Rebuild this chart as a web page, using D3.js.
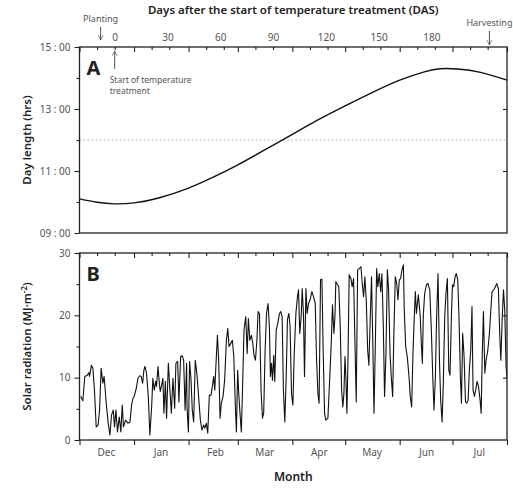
<!DOCTYPE html>
<html>
<head>
<meta charset="utf-8">
<script src="https://cdn.jsdelivr.net/npm/d3@7"></script>
<style>
  body { margin: 0; background: #fff; }
  text { font-family: "Noto Sans", "Open Sans", sans-serif; }
</style>
</head>
<body>
<script>
// months on the bottom axis
const months = ["Dec", "Jan", "Feb", "Mar", "Apr", "May", "Jun", "Jul"];

// days after the start of temperature treatment, top axis labels
const dasTicks = [0, 30, 60, 90, 120, 150, 180];

// y ticks
const dayLenTicks = [9, 11, 13, 15];
const dayLenMinor = [10, 12, 14];
const radTicks = [0, 10, 20, 30];
const radMinor = [5, 15, 25];

// day length (hrs); days counted from 1 Dec
const dayLenDay = [0, 10, 20, 31, 45, 62, 76, 90, 105, 121, 135, 151, 166, 182, 196, 205, 215, 228, 243];
const dayLenHrs = [10.10, 9.99, 9.94, 9.97, 10.13, 10.45, 10.80, 11.20, 11.67, 12.18, 12.63, 13.10, 13.52, 13.93, 14.20, 14.30, 14.29, 14.18, 13.93];

// solar radiation (MJ m-2); days counted from 1 Dec
const radDay = [
  0.6, 1.9, 3.0, 4.4, 5.3, 5.7, 6.8, 7.6, 8.5, 9.5, 10.6, 11.4, 12.3, 13.3, 14.0, 15.2, 16.3, 17.3, 18.2, 19.2,
  19.9, 20.7, 21.6, 22.6, 23.5, 24.3, 25.0, 26.2, 27.5, 28.7, 29.6, 30.4, 31.1, 32.3, 33.2, 34.2, 35.1, 35.9, 36.6, 37.2,
  38.1, 39.1, 40.0, 41.0, 41.7, 42.5, 43.3, 43.8, 44.6, 45.4, 45.9, 46.7, 47.4, 48.0, 48.8, 49.5, 50.5, 51.4, 52.2, 53.1,
  54.1, 54.8, 55.8, 56.5, 57.5, 58.4, 59.2, 60.0, 60.9,
  61.1, 61.9, 62.6, 63.4, 64.1, 64.9, 65.8, 66.8, 67.7, 68.7, 69.6, 70.6, 71.3, 72.1, 72.9, 73.8, 74.8, 75.5, 76.3, 76.9,
  77.6, 78.4, 79.1, 79.9, 80.6, 81.6, 82.5, 83.5, 84.3, 85.0, 86.0, 86.9, 87.7, 88.6, 89.2, 89.9, 90.5, 91.3, 92.0, 92.8,
  93.5, 94.5, 95.3, 96.0, 96.8, 97.7, 98.5, 99.2, 100.0, 100.8, 101.5, 102.3, 103.2, 104.0, 104.7, 105.5, 106.3, 107.2,
  108.0, 108.5, 109.1, 109.7, 110.4, 111.0, 111.8, 112.7, 113.7, 114.4, 115.2, 115.9, 116.7, 117.5, 118.2, 119.0, 119.7,
  120.5, 121.3, 122.0,
  123.0, 123.9, 124.5, 125.2, 126.0, 126.6, 127.3, 127.9, 128.7, 129.4, 130.2, 131.1, 132.1, 133.0, 134.0, 134.7, 135.5,
  136.2, 137.0, 137.8, 138.5, 139.3, 140.0, 141.2, 142.1, 143.1, 143.8, 144.6, 145.2, 145.7, 146.7, 147.4, 148.2, 149.0,
  149.7, 150.3, 150.9, 151.4, 152.0, 152.6, 153.3, 154.3, 155.0, 155.8, 156.5, 157.3, 158.1, 159.0, 160.0, 160.7, 161.5,
  162.2, 163.0, 163.8, 164.5, 165.3, 166.0, 166.8, 167.4, 168.1, 168.9, 169.6, 170.4, 171.2, 171.9, 172.7, 173.4, 174.2,
  175.0, 175.7, 176.5, 177.2, 178.0, 178.7, 179.5, 180.3, 181.0, 181.8, 182.5, 183.3, 184.1,
  184.6, 185.4, 186.3, 187.3, 188.0, 188.8, 189.6, 190.3, 190.9, 191.5, 192.0, 192.6, 193.2, 193.7, 194.3, 194.9, 195.4,
  196.2, 197.2, 198.1, 199.1, 200.0, 200.8, 201.5, 202.3, 203.0, 203.8, 204.6, 205.3, 206.1, 206.8, 207.6, 208.3, 209.1,
  209.9, 210.6, 211.4, 212.0, 212.7, 213.5, 214.2, 215.0, 215.7, 216.5, 217.1, 217.8, 218.6, 219.4, 220.1, 220.9, 221.6,
  222.4, 223.1, 223.7, 224.5, 225.2, 226.0, 226.8, 227.7, 228.3, 229.0, 229.6, 230.4, 231.1, 232.1, 233.0, 233.8, 234.5,
  235.5, 236.4, 237.2, 238.1, 238.9, 239.5, 240.2, 241.0, 241.7, 242.5, 243.0
];
const radVal = [
  7.0, 6.3, 10.2, 10.4, 10.8, 10.2, 12.0, 11.5, 8.0, 2.1, 2.4, 4.8, 11.5, 9.1, 10.2, 5.9, 2.7, 0.8, 4.0, 4.8,
  2.1, 4.8, 1.3, 3.7, 1.3, 5.6, 2.1, 3.2, 2.7, 2.9, 5.6, 6.7, 7.0, 8.3, 9.9, 10.3, 10.2, 9.1, 11.2, 11.8,
  10.7, 7.0, 0.8, 5.3, 9.9, 8.0, 9.4, 8.6, 11.8, 9.1, 7.8, 8.8, 9.9, 4.3, 9.4, 3.5, 12.3, 8.0, 4.3, 9.9,
  5.1, 12.3, 12.6, 6.1, 13.4, 13.5, 12.8, 4.8, 12.3,
  5.3, 1.3, 12.6, 9.6, 4.8, 2.9, 12.8, 10.4, 7.0, 3.2, 1.6, 2.4, 1.9, 2.7, 1.1, 7.2, 7.2, 8.6, 10.2, 8.0,
  12.3, 16.8, 12.8, 3.5, 5.9, 7.0, 9.6, 16.0, 17.9, 15.0, 15.5, 16.0, 13.4, 5.3, 1.3, 11.2, 7.5, 4.0, 1.3, 9.6,
  17.6, 19.8, 13.9, 19.5, 16.0, 16.8, 15.5, 13.6, 12.8, 15.8, 20.6, 20.3, 8.0, 3.5, 4.3, 14.4, 20.3, 21.9,
  17.6, 10.2, 12.3, 9.6, 13.6, 9.4, 17.6, 18.7, 20.3, 20.6, 19.8, 8.0, 2.9, 10.2, 19.3, 20.3, 18.2,
  7.5, 5.6, 13.4,
  20.3, 23.0, 24.1, 17.1, 19.8, 24.3, 20.3, 10.2, 24.3, 20.3, 21.9, 22.5, 23.8, 23.0, 21.9, 13.4, 7.5,
  5.9, 25.7, 25.8, 14.4, 4.3, 3.2, 3.5, 9.1, 15.5, 21.7, 17.1, 19.8, 25.4, 24.9, 24.6, 18.2, 8.0,
  5.3, 7.5, 13.4, 10.2, 4.3, 12.8, 26.5, 25.9, 24.6, 25.9, 16.6, 6.1, 27.3, 27.5, 27.8, 25.1, 23.0,
  26.2, 22.5, 14.4, 12.0, 19.8, 26.2, 14.4, 4.3, 14.4, 27.5, 24.6, 26.7, 23.8, 26.7, 18.2, 7.0, 13.9,
  27.3, 24.1, 13.9, 10.2, 7.0, 17.1, 26.2, 25.1, 22.5, 25.7, 25.9, 27.3, 28.1,
  20.9, 15.0, 13.4, 10.2, 7.0, 5.3, 14.4, 19.8, 23.8, 20.3, 21.7, 23.3, 21.4, 19.8, 15.5, 12.3, 19.8,
  23.5, 24.9, 25.1, 24.1, 17.6, 10.2, 4.8, 10.2, 19.8, 26.7, 12.8, 6.4, 2.9, 9.1, 19.8, 23.5, 25.9,
  11.2, 10.4, 19.8, 24.9, 24.6, 26.2, 26.7, 25.7, 19.8, 10.2, 5.9, 17.1, 13.4, 6.1, 5.9, 6.4, 11.2,
  14.4, 21.4, 8.0, 7.0, 8.0, 9.4, 8.6, 6.4, 4.3, 14.4, 20.6, 10.7, 12.8, 14.4, 17.1, 20.9, 23.8,
  24.1, 24.6, 25.1, 24.3, 16.6, 12.8, 19.0, 24.1, 20.9, 11.8, 9.9
];

// key dates
const startDate = new Date(2014, 11, 1);
const endDate = new Date(2015, 7, 1);
const plantDate = new Date(2014, 11, 13);
const treatDate = new Date(2014, 11, 21);
const harvestDate = new Date(2015, 6, 22);

const W = 513, H = 490;
const L = 79.5, R = 507;
const aTop = 47, aBot = 233;
const bTop = 253, bBot = 440;
const ink = "#222", grey = "#555";

const svg = d3.select("body").append("svg")
  .attr("width", W)
  .attr("height", H);

const day = d => d3.timeDay.offset(startDate, Math.floor(d)).getTime() + (d % 1) * 864e5;

const x = d3.scaleTime().domain([startDate, endDate]).range([L, R]);
const yA = d3.scaleLinear().domain([9, 15]).range([aBot, aTop]);
const yB = d3.scaleLinear().domain([0, 30]).range([bBot, bTop]);

// DAS scale lined up with the date scale
const das = d3.scaleLinear()
  .domain([d3.timeDay.count(treatDate, startDate), d3.timeDay.count(treatDate, endDate)])
  .range([L, R]);

const monthTicks = d3.timeMonth.range(startDate, d3.timeDay.offset(endDate, 1));
const minorTicks = d3.timeDay.range(startDate, endDate).filter(d => d.getDate() === 11 || d.getDate() === 21);
const monthMids = d3.timeMonth.range(startDate, endDate).map(d => new Date(d.getFullYear(), d.getMonth(), 16));

function styleAxis(g) {
  g.select(".domain").remove();
  g.selectAll("line").attr("stroke", ink).attr("stroke-width", 1.1);
  g.selectAll("text").attr("fill", grey).style("font-size", "10px");
}

// ---- panel A ----
const hourFmt = h => d3.format("02")(h) + " : 00";

svg.append("g").attr("transform", `translate(${L},0)`)
  .call(d3.axisLeft(yA).tickValues(dayLenTicks).tickSize(5).tickPadding(4).tickFormat(hourFmt))
  .call(styleAxis);
svg.append("g").attr("transform", `translate(${L},0)`)
  .call(d3.axisLeft(yA).tickValues(dayLenMinor).tickSize(3).tickFormat(""))
  .call(styleAxis);
svg.append("g").attr("transform", `translate(${R},0)`)
  .call(d3.axisLeft(yA).tickValues([11, 13]).tickSize(4).tickFormat(""))
  .call(styleAxis);

// top axis: month ticks inward, DAS labels
svg.append("g").attr("transform", `translate(0,${aTop})`)
  .call(d3.axisBottom(x).tickValues(monthTicks).tickSize(5).tickFormat(""))
  .call(styleAxis);
svg.append("g").attr("transform", `translate(0,${aTop})`)
  .call(d3.axisBottom(x).tickValues(minorTicks).tickSize(3).tickFormat(""))
  .call(styleAxis);
svg.append("g").attr("transform", `translate(0,${aTop})`)
  .call(d3.axisTop(das).tickValues(dasTicks).tickSize(0).tickPadding(6))
  .call(styleAxis);

// 12:00 reference
svg.append("line")
  .attr("x1", L).attr("x2", R)
  .attr("y1", yA(12)).attr("y2", yA(12))
  .attr("stroke", "#aaa").attr("stroke-width", 1)
  .attr("stroke-dasharray", "1.5,2.5");

const dayLenLine = d3.line()
  .x((d, i) => x(day(dayLenDay[i])))
  .y(d => yA(d))
  .curve(d3.curveNatural);

svg.append("path")
  .datum(dayLenHrs)
  .attr("d", dayLenLine)
  .attr("fill", "none")
  .attr("stroke", "#111")
  .attr("stroke-width", 1.4);

svg.append("rect")
  .attr("x", L).attr("y", aTop)
  .attr("width", R - L).attr("height", aBot - aTop)
  .attr("fill", "none").attr("stroke", ink).attr("stroke-width", 1.3);

svg.append("text")
  .attr("x", L + 7).attr("y", aTop + 28)
  .attr("font-family", "Liberation Sans, Arial, sans-serif")
  .attr("font-weight", "bold").attr("font-size", 20)
  .attr("fill", ink)
  .text("A");

// ---- panel B ----
svg.append("defs").append("clipPath").attr("id", "clipB")
  .append("rect").attr("x", L).attr("y", bTop - 5).attr("width", R - L).attr("height", bBot - bTop + 5);

svg.append("g").attr("transform", `translate(${L},0)`)
  .call(d3.axisLeft(yB).tickValues(radTicks).tickSize(5).tickPadding(4))
  .call(styleAxis);
svg.append("g").attr("transform", `translate(${L},0)`)
  .call(d3.axisLeft(yB).tickValues(radMinor).tickSize(3).tickFormat(""))
  .call(styleAxis);
svg.append("g").attr("transform", `translate(${R},0)`)
  .call(d3.axisLeft(yB).tickValues([10, 20]).tickSize(4).tickFormat(""))
  .call(styleAxis);

svg.append("g").attr("transform", `translate(0,${bTop})`)
  .call(d3.axisBottom(x).tickValues(monthTicks).tickSize(5).tickFormat(""))
  .call(styleAxis);
svg.append("g").attr("transform", `translate(0,${bTop})`)
  .call(d3.axisBottom(x).tickValues(minorTicks).tickSize(3).tickFormat(""))
  .call(styleAxis);

svg.append("g").attr("transform", `translate(0,${bBot})`)
  .call(d3.axisBottom(x).tickValues(monthTicks).tickSize(5).tickFormat(""))
  .call(styleAxis);
svg.append("g").attr("transform", `translate(0,${bBot})`)
  .call(d3.axisBottom(x).tickValues(monthMids).tickSize(0).tickPadding(9).tickFormat(d3.timeFormat("%b")))
  .call(styleAxis);

const radLine = d3.line()
  .x((d, i) => x(day(radDay[i])))
  .y(d => yB(d));

svg.append("path")
  .datum(radVal)
  .attr("d", radLine)
  .attr("clip-path", "url(#clipB)")
  .attr("fill", "none")
  .attr("stroke", "#111")
  .attr("stroke-width", 1.1)
  .attr("stroke-linejoin", "round");

svg.append("rect")
  .attr("x", L).attr("y", bTop)
  .attr("width", R - L).attr("height", bBot - bTop)
  .attr("fill", "none").attr("stroke", ink).attr("stroke-width", 1.3);

svg.append("text")
  .attr("x", L + 7).attr("y", bTop + 28)
  .attr("font-family", "Liberation Sans Narrow, Liberation Sans, Arial, sans-serif")
  .attr("font-weight", "bold").attr("font-size", 20)
  .attr("fill", ink)
  .text("B");

// ---- titles ----
svg.append("text")
  .attr("x", (L + R) / 2).attr("y", 14)
  .attr("text-anchor", "middle")
  .attr("font-size", 11.5).attr("font-weight", 600).attr("fill", ink)
  .text("Days after the start of temperature treatment (DAS)");

svg.append("text")
  .attr("x", (L + R) / 2).attr("y", 481)
  .attr("text-anchor", "middle")
  .attr("font-size", 12).attr("font-weight", 600).attr("fill", ink)
  .text("Month");

svg.append("text")
  .attr("transform", `translate(31,${(aTop + aBot) / 2}) rotate(-90)`)
  .attr("text-anchor", "middle")
  .attr("font-size", 11.5).attr("font-weight", 600).attr("fill", ink)
  .text("Day length (hrs)");

const radLab = svg.append("text")
  .attr("transform", `translate(31,${(bTop + bBot) / 2}) rotate(-90)`)
  .attr("text-anchor", "middle")
  .attr("font-size", 11.5).attr("font-weight", 600).attr("fill", ink);
radLab.append("tspan").text("Solar radiation (MJ·m");
radLab.append("tspan").attr("dy", -4).attr("font-size", 8).text("-2");
radLab.append("tspan").attr("dy", 4).text(")");

// ---- arrows and notes ----
svg.select("defs").append("marker")
  .attr("id", "arr")
  .attr("viewBox", "0 0 10 10")
  .attr("refX", 9).attr("refY", 5)
  .attr("markerWidth", 6).attr("markerHeight", 7)
  .attr("orient", "auto-start-reverse")
  .append("path")
  .attr("d", "M1,1 L9,5 L1,9")
  .attr("fill", "none").attr("stroke", grey).attr("stroke-width", 1.2);

function arrow(xp, y1, y2) {
  svg.append("line")
    .attr("x1", xp).attr("x2", xp)
    .attr("y1", y1).attr("y2", y2)
    .attr("stroke", grey).attr("stroke-width", 1)
    .attr("marker-end", "url(#arr)");
}

svg.append("text")
  .attr("x", x(plantDate)).attr("y", 22)
  .attr("text-anchor", "middle").attr("font-size", 9).attr("fill", grey)
  .text("Planting");
arrow(x(plantDate), 27, 40);

svg.append("text")
  .attr("x", x(harvestDate)).attr("y", 26)
  .attr("text-anchor", "middle").attr("font-size", 9).attr("fill", grey)
  .text("Harvesting");
arrow(x(harvestDate), 31, 45);

arrow(x(treatDate), 69, 51);
const note = svg.append("text")
  .attr("font-size", 8.5).attr("fill", grey);
note.append("tspan")
  .attr("x", x(treatDate) - 5).attr("y", 83)
  .text("Start of temperature");
note.append("tspan")
  .attr("x", x(treatDate) - 5).attr("dy", 10.5)
  .text("treatment");
</script>
</body>
</html>
